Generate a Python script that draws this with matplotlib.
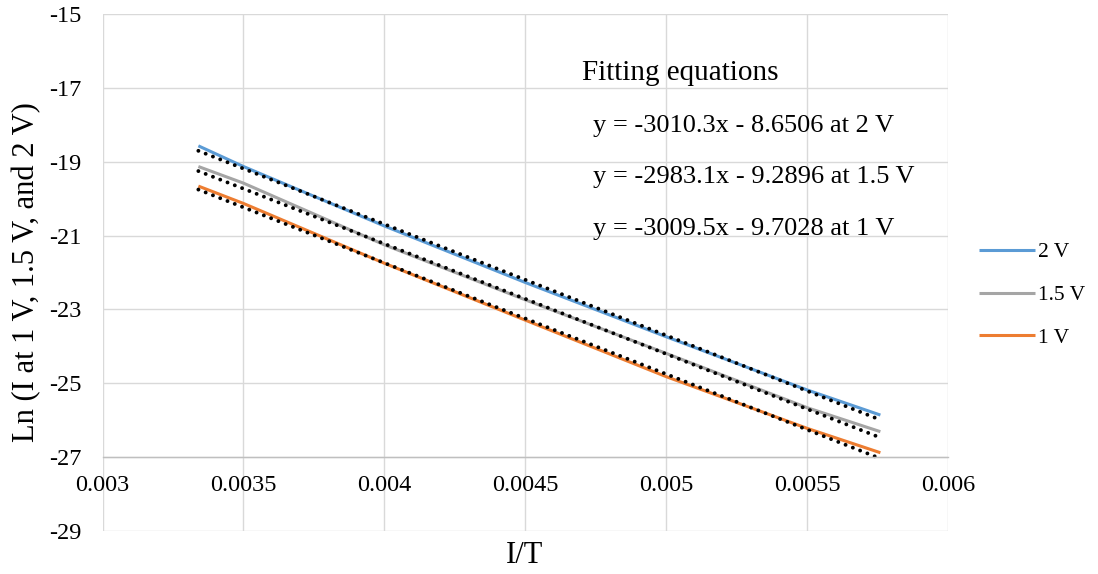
import matplotlib
matplotlib.use("Agg")
import matplotlib.pyplot as plt
import numpy as np

plt.rcParams["font.family"] = ["Liberation Serif", "DejaVu Serif"]
plt.rcParams["axes.unicode_minus"] = False

# 1/T values and Ln(I) for each bias
inv_t = [0.00334, 0.0035, 0.004, 0.0045, 0.005, 0.0055, 0.00576]
ln_i_2v = [-18.57, -19.13, -20.74, -22.27, -23.74, -25.18, -25.86]
ln_i_15v = [-19.13, -19.58, -21.25, -22.74, -24.19, -25.66, -26.31]
ln_i_1v = [-19.66, -20.13, -21.75, -23.29, -24.82, -26.22, -26.88]

labels = ["2 V", "1.5 V", "1 V"]
colors = ["#5B9BD5", "#A5A5A5", "#ED7D31"]

# linear fits shown on the chart
slopes = [-3010.3, -2983.1, -3009.5]
intercepts = [-8.6506, -9.2896, -9.7028]
fit_texts = [
    "y = -3010.3x - 8.6506 at 2 V",
    "y = -2983.1x - 9.2896 at 1.5 V",
    "y = -3009.5x - 9.7028 at 1 V",
]

fig = plt.figure(figsize=(10.98, 5.74), dpi=100)
ax = fig.add_axes((0.0934, 0.0749, 0.77, 0.9007))

x = np.array(inv_t)
for ys, lab, col in zip([ln_i_2v, ln_i_15v, ln_i_1v], labels, colors):
    ax.plot(x, ys, color=col, lw=2.2, label=lab, solid_capstyle="butt",
            solid_joinstyle="round")

for m, b in zip(slopes, intercepts):
    ax.plot(x[[0, -1]], m * x[[0, -1]] + b, color="black", lw=2.8,
            linestyle=(0, (0.01, 2.0)), dash_capstyle="round")

ax.set_xlim(0.003, 0.006)
ax.set_ylim(-29, -15)
ax.set_xticks(np.arange(0.003, 0.00601, 0.0005))
ax.set_xticklabels(["0.003", "0.0035", "0.004", "0.0045", "0.005", "0.0055", "0.006"])
ax.set_yticks(np.arange(-29, -14, 2))
ax.grid(True, color="#D9D9D9", lw=1.0)
ax.set_axisbelow(True)
for s in ["top", "right", "left"]:
    ax.spines[s].set_visible(False)
ax.spines["bottom"].set_position(("data", -27))
ax.spines["bottom"].set_color("#BFBFBF")
ax.spines["bottom"].set_linewidth(1.0)
ax.tick_params(axis="x", length=0, pad=13, labelsize=17.5)
ax.tick_params(axis="y", length=0, pad=15, labelsize=17.5)

ax.set_ylabel("Ln (I at 1 V, 1.5 V, and 2 V)", fontsize=22, labelpad=6)
fig.text(0.478, 0.033, "I/T", fontsize=22, ha="center", va="center")

ax.text(0.0047, -16.79, "Fitting equations", fontsize=21, va="baseline")
for yb, t in zip([-18.20, -19.58, -20.98], fit_texts):
    ax.text(0.00474, yb, t, fontsize=19, va="baseline")

fig.legend(loc="center left", bbox_to_anchor=(0.882, 0.486), frameon=False,
           fontsize=15.5, handlelength=2.6, handletextpad=0.15,
           labelspacing=1.05, borderpad=0)

fig.savefig("out.png", dpi=100)
